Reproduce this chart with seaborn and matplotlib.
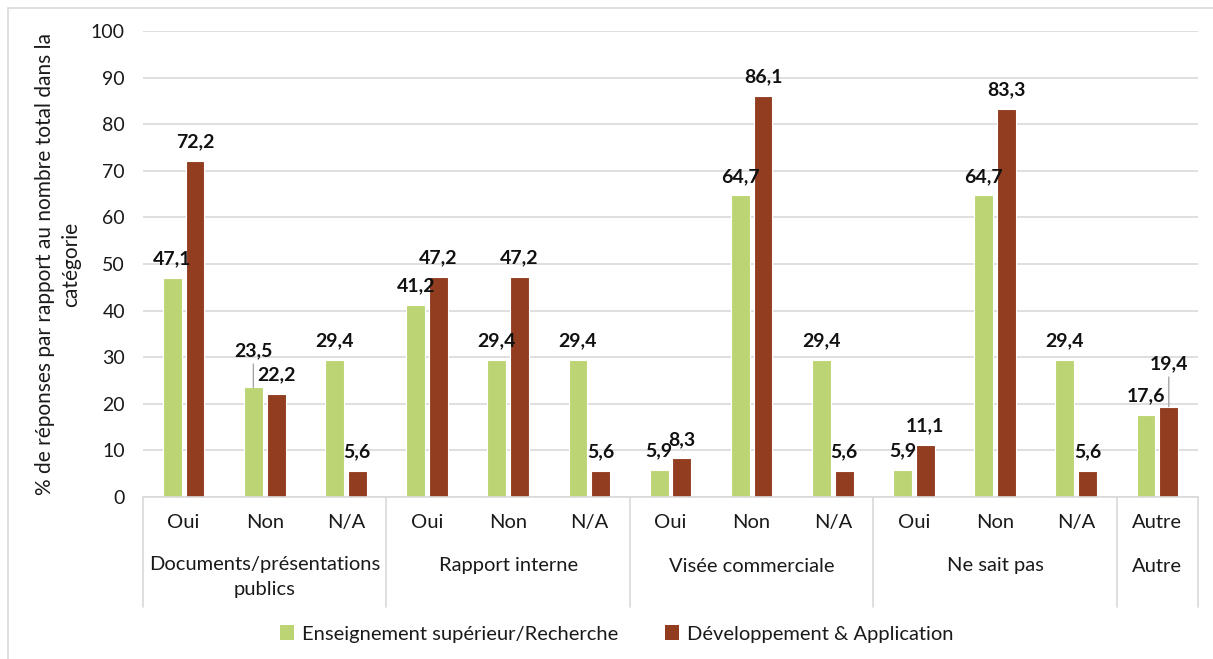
import matplotlib
matplotlib.use("Agg")
import matplotlib.pyplot as plt
import seaborn as sns
import pandas as pd
import numpy as np
from matplotlib.patches import Rectangle
from matplotlib.lines import Line2D

# ---- data ----
groups = ["Documents/présentations\npublics", "Rapport interne", "Visée commerciale", "Ne sait pas", "Autre"]
group_sizes = [3, 3, 3, 3, 1]
sub_labels = ["Oui", "Non", "N/A", "Oui", "Non", "N/A", "Oui", "Non", "N/A", "Oui", "Non", "N/A", "Autre"]
series_names = ["Enseignement supérieur/Recherche", "Développement & Application"]
enseignement = [47.1, 23.5, 29.4, 41.2, 29.4, 29.4, 5.9, 64.7, 29.4, 5.9, 64.7, 29.4, 17.6]
developpement = [72.2, 22.2, 5.6, 47.2, 47.2, 5.6, 8.3, 86.1, 5.6, 11.1, 83.3, 5.6, 19.4]
y_ticks = [0, 10, 20, 30, 40, 50, 60, 70, 80, 90, 100]

colors = ["#BDD474", "#923D1F"]
TXT = "#1A1A1A"

n = len(sub_labels)
df = pd.DataFrame({
    "slot": list(range(n)) * 2,
    "value": enseignement + developpement,
    "series": [series_names[0]] * n + [series_names[1]] * n,
})

sns.set_theme(style="white")
plt.rcParams["font.family"] = ["Lato", "DejaVu Sans"]

W, H = 1213, 659
fig = plt.figure(figsize=(W / 100, H / 100), dpi=100)
ax = fig.add_axes([143 / W, 1 - 497 / H, (1198 - 143) / W, (497 - 31) / H])

sns.barplot(data=df, x="slot", y="value", hue="series", order=list(range(n)),
            hue_order=series_names, palette=colors, width=0.56, gap=0.17,
            saturation=1, ax=ax, legend=False, linewidth=0.8, edgecolor="white")

ax.set_xlim(-0.5, n - 0.5)
ax.set_ylim(0, 100)
ax.set_yticks(y_ticks)
ax.set_yticklabels([str(t) for t in y_ticks], fontsize=14, color=TXT)
ax.tick_params(axis="y", length=0, pad=13)
ax.yaxis.grid(True, color="#D9D9D9", linewidth=1.2)
ax.set_axisbelow(True)
for s in ["left", "right", "top"]:
    ax.spines[s].set_visible(False)
ax.spines["bottom"].set_color("#D9D9D9")
ax.spines["bottom"].set_linewidth(1.2)
ax.set_xlabel("")
ax.set_ylabel("")

# level 1 tick labels
ax.set_xticks(range(n))
ax.set_xticklabels(sub_labels, fontsize=14.5, color=TXT)
ax.tick_params(axis="x", length=0, pad=12)

# group labels and separators
trans = ax.get_xaxis_transform()
axh_px = 497 - 31
start = 0
bounds = [-0.5]
for g, size in zip(groups, group_sizes):
    center = start + (size - 1) / 2
    if "\n" in g:
        ax.text(center, -(556 - 497) / axh_px, g, transform=trans, ha="center", va="top",
                fontsize=14.5, color=TXT, linespacing=1.6, clip_on=False,
                multialignment="center")
    else:
        ax.text(center, -(566 - 497) / axh_px, g, transform=trans, ha="center", va="center",
                fontsize=14.5, color=TXT, clip_on=False)
    start += size
    bounds.append(start - 0.5)
for b in bounds:
    ax.add_line(Line2D([b, b], [0, -(607 - 497) / axh_px], transform=trans,
                       color="#D9D9D9", linewidth=1.2, clip_on=False))

# data labels
raised = {(0, 1): 26.4, (1, 12): 30.8}
for si, cont in enumerate(ax.containers):
    vals = enseignement if si == 0 else developpement
    for i, bar in enumerate(cont):
        x = bar.get_x() + bar.get_width() / 2
        h = bar.get_height()
        off = raised.get((si, i), 13.7)
        ax.annotate(f"{vals[i]:.1f}".replace(".", ","), (x, h), xytext=(0, off),
                    textcoords="offset points", ha="center", va="center",
                    fontsize=14, fontweight="bold", color="#111111")
        if (si, i) in raised:
            ax.annotate("", (x, h), xytext=(0, off - 9.5), textcoords="offset points",
                        arrowprops=dict(arrowstyle="-", color="#A6A6A6", lw=1,
                                        shrinkA=0, shrinkB=0))

# y label
fig.text(58 / W, 1 - 264 / H,
         "% de réponses par rapport au nombre total dans la\ncatégorie",
         rotation=90, ha="center", va="center", fontsize=15, color=TXT,
         multialignment="center", linespacing=1.35)

# legend
handles = [Rectangle((0, 0), 1, 1, facecolor=c, edgecolor="none") for c in colors]
fig.legend(handles, series_names, loc="center", bbox_to_anchor=(617 / W, 1 - 634 / H),
           ncol=2, frameon=False, fontsize=14.5, handlelength=0.7, handleheight=0.7,
           handletextpad=0.4, columnspacing=2.3, labelcolor=TXT)

# outer border
fig.add_artist(Rectangle((8 / W, -0.1), 1.2, 1 - 8 / H + 0.1, transform=fig.transFigure,
                         fill=False, edgecolor="#D9D9D9", linewidth=1.2))

fig.savefig("out.png", dpi=100, facecolor="white")
